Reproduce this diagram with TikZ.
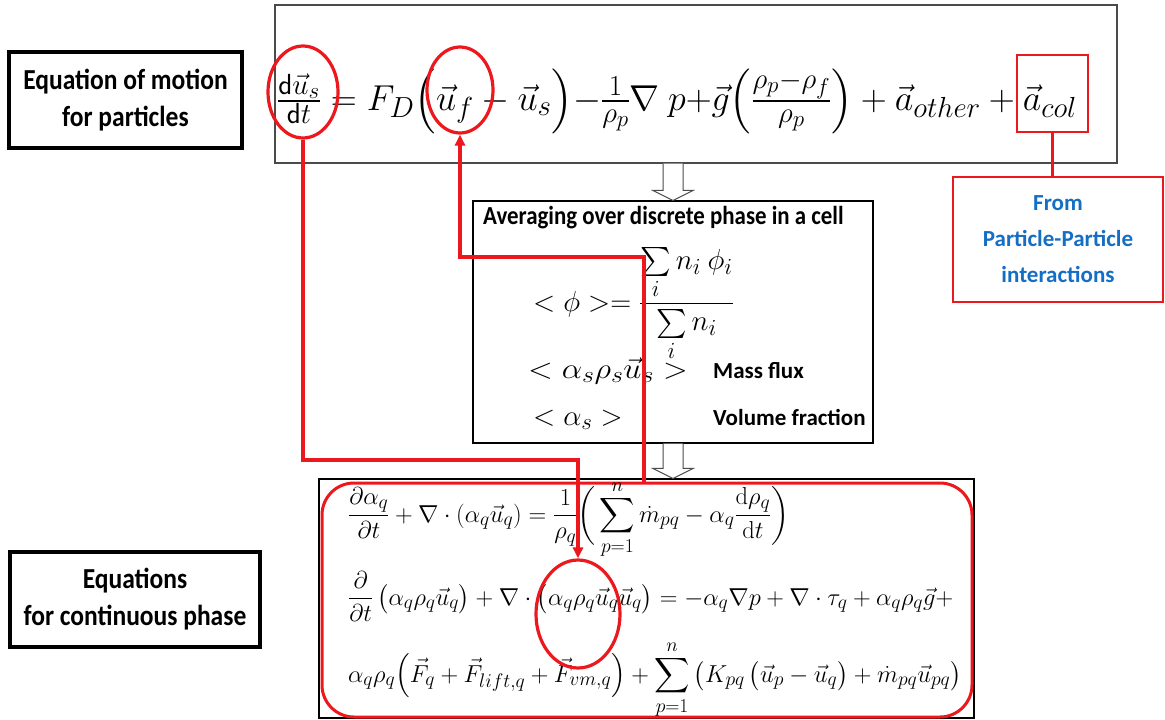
\RequirePackage{fix-cm}
\documentclass[tikz,border=0pt]{standalone}
\usepackage{amsmath,amssymb}
\usepackage[no-math]{fontspec}
\setmainfont{Carlito}
\newfontfamily\narrowfont[FakeStretch=0.88]{Carlito}
\usetikzlibrary{arrows.meta,positioning,calc,shapes.geometric}
\DeclareMathSizes{36}{36}{29}{23}
\DeclareMathSizes{29}{29}{23}{18}
\DeclareMathSizes{24.5}{24.5}{19.6}{15.7}
\definecolor{hilite}{RGB}{236,24,30}
\definecolor{note}{RGB}{20,110,196}
\definecolor{frame}{RGB}{75,75,75}

\begin{document}
\begin{tikzpicture}[x=1pt,y=-1pt,
    labelbox/.style={draw=black, line width=3.5pt, align=center, inner sep=0pt,
      font=\narrowfont\bfseries\fontsize{29}{37}\selectfont},
    plainbox/.style={draw=black, line width=1.1pt, inner sep=0pt},
    ring/.style={draw=hilite, line width=3.2pt, ellipse, inner sep=0pt},
    markbox/.style={draw=hilite, line width=2.8pt, inner sep=0pt},
    link/.style={draw=hilite, line width=3.2pt, -{Triangle[length=11pt,width=10pt]}},
    hollow/.style={draw=frame, line width=1pt, fill=white},
    slide/.style={inner sep=0pt, anchor=base west, font=\bfseries\fontsize{23}{28}\selectfont},
    eqbig/.style={inner sep=0pt, anchor=base west, font=\fontsize{36}{40}\selectfont},
    eqmid/.style={inner sep=0pt, anchor=base west, font=\fontsize{29}{34}\selectfont},
    eqlow/.style={inner sep=0pt, anchor=base west, font=\fontsize{24.5}{30}\selectfont}]
  \useasboundingbox (0,0) rectangle (1165,720);

  % side labels
  \node[labelbox, minimum width=233, minimum height=96] (partlbl) at (125.5,100) {Equation of motion\\for particles};
  \node[labelbox, minimum width=250, minimum height=95] (contlbl) at (135,599.5) {Equations\\for continuous phase};

  % particle equation
  \node[plainbox, draw=frame, minimum width=842, minimum height=158] (motion) at (696,84) {};
  \node[eqbig] (motioneq) at (277,110)
    {$\frac{\mathsf{d}\vec{u}_s}{\mathsf{d}t} = F_D\Big(\vec{u}_f - \vec{u}_s\Big){-}\frac{1}{\rho_p}\nabla\ p{+}\vec{g}\Big(\frac{\rho_p{-}\rho_f}{\rho_p}\Big) + \vec{a}_{other} + \vec{a}_{col}$};
  \node[ring, minimum width=70, minimum height=92] (ringA) at (303,92) {};
  \node[ring, minimum width=66, minimum height=86] (ringB) at (460,90) {};
  \node[markbox, minimum width=71, minimum height=77] (colmark) at (1052.5,93.5) {};
  \node[markbox, minimum width=210, minimum height=125, align=center, text=note,
    font=\bfseries\fontsize{23}{36}\selectfont] (collsrc) at (1058,239.5) {From\\Particle-Particle\\interactions};
  \draw[hilite, line width=2.8pt] (colmark.south) -- (colmark.south |- collsrc.north);

  % averaging
  \node[plainbox, minimum width=400, minimum height=242] (avg) at (673,322) {};
  \node[slide, font=\narrowfont\bfseries\fontsize{26}{28}\selectfont] (avgtitle) at (483,224) {Averaging over discrete phase in a cell};
  \node[eqmid] (phieq) at (533,311) {$<\phi>=\dfrac{\textstyle\sum\limits_i n_i\ \phi_i}{\textstyle\sum\limits_i n_i}$};
  \node[eqmid] (fluxeq) at (528,378) {\scalebox{1.12}[1]{$<\alpha_s\rho_s\vec{u}_s>$}};
  \node[slide] (fluxtxt) at (713,378) {Mass flux};
  \node[eqmid] (fraceq) at (533,425) {$<\alpha_s>$};
  \node[slide] (fractxt) at (713,425) {Volume fraction};

  % continuous phase
  \node[plainbox, minimum width=655, minimum height=239] (flow) at (646.5,598.5) {};
  \node[markbox, line width=3pt, rounded corners=32pt, minimum width=650, minimum height=234] (flowmark) at (647,600) {};
  \node[eqlow] (masseq) at (348,522)
    {$\displaystyle\frac{\partial\alpha_q}{\partial t} + \nabla\cdot(\alpha_q\vec{u}_q) = \frac{1}{\rho_q}\bigg(\sum_{p=1}^{n}\dot{m}_{pq} - \alpha_q\frac{\mathrm{d}\rho_q}{\mathrm{d}t}\bigg)$};
  \node[eqlow] (momeq) at (348,605)
    {$\displaystyle\frac{\partial}{\partial t}\left(\alpha_q\rho_q\vec{u}_q\right) + \nabla\cdot\left(\alpha_q\rho_q\vec{u}_q\vec{u}_q\right) = -\alpha_q\nabla p + \nabla\cdot\tau_q + \alpha_q\rho_q\vec{g} +$};
  \node[eqlow] (forceeq) at (348,682)
    {$\displaystyle\alpha_q\rho_q\Big(\vec{F}_q + \vec{F}_{lift,q} + \vec{F}_{vm,q}\Big) + \sum_{p=1}^{n}\left(K_{pq}\left(\vec{u}_p - \vec{u}_q\right) + \dot{m}_{pq}\vec{u}_{pq}\right)$};
  \node[ring, minimum width=84, minimum height=108] (ringC) at (578,614) {};

  % hollow arrows between the stages
  \foreach \a/\b in {motion/avg,avg/flow}{
    \coordinate (tail) at (\a.south -| avg.north);
    \coordinate (tip) at (\b.north -| avg.north);
    \draw[hollow] ($(tail)+(-10,0)$) -- ($(tip)+(-10,-10)$) -- ($(tip)+(-20,-10)$) -- (tip)
      -- ($(tip)+(20,-10)$) -- ($(tip)+(10,-10)$) -- ($(tail)+(10,0)$);
  }

  % red links
  \coordinate (jogA) at (0,460);
  \coordinate (jogB) at (644,257);
  \draw[link] (ringA.south) -- (ringA.south |- jogA) -- (ringC.north |- jogA) -- (ringC.north);
  \draw[link] (jogB |- flowmark.north) -- (jogB) -- (ringB.south |- jogB) -- (ringB.south);
\end{tikzpicture}
\end{document}
